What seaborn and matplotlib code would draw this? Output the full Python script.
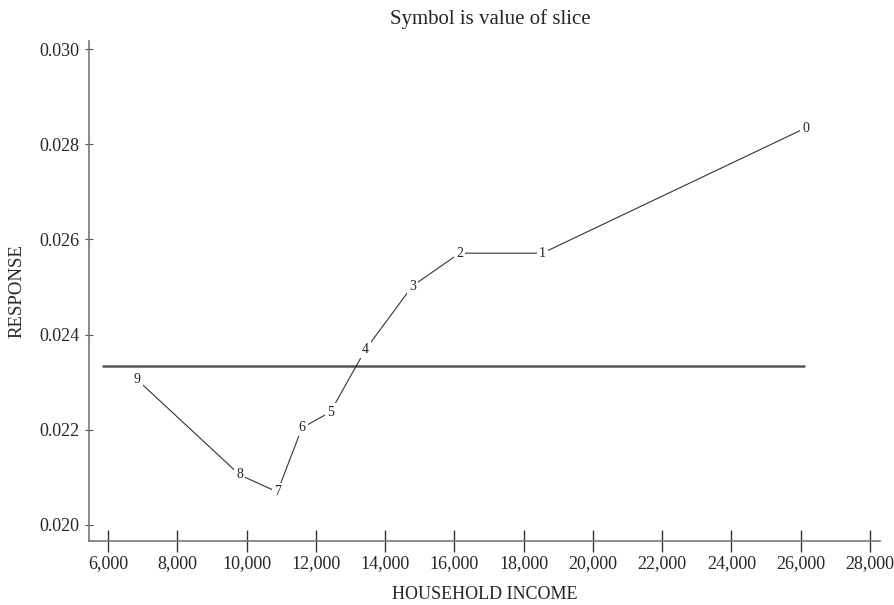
import matplotlib
matplotlib.use("Agg")
import matplotlib.pyplot as plt
import seaborn as sns
import pandas as pd

# Data
slices = ["9", "8", "7", "6", "5", "4", "3", "2", "1", "0"]
income = [6840, 9800, 10890, 11600, 12420, 13430, 14790, 16150, 18540, 26140]
response = [0.02305, 0.02105, 0.02069, 0.02204, 0.02237, 0.02368, 0.02502, 0.02571, 0.02571, 0.02834]
mean_line_x = [5860, 26090]
mean_line_y = [0.02334, 0.02334]
x_ticks = [6000, 8000, 10000, 12000, 14000, 16000, 18000, 20000, 22000, 24000, 26000, 28000]
y_ticks = [0.020, 0.022, 0.024, 0.026, 0.028, 0.030]

sns.set_style("white")
plt.rcParams['font.family'] = ['Liberation Serif', 'DejaVu Serif']

df = pd.DataFrame({"income": income, "response": response, "slice": slices})
mdf = pd.DataFrame({"x": mean_line_x, "y": mean_line_y})

fig = plt.figure(figsize=(8.94, 6.05), dpi=100)
ax = fig.add_axes([0.0996, 0.1058, 0.885, 0.8264])

sns.lineplot(data=mdf, x="x", y="y", ax=ax, color="#555555", linewidth=1.8, sort=False)
sns.lineplot(data=df, x="income", y="response", ax=ax, color="#333333", linewidth=0.8, sort=False)
for xi, yi, s in zip(income, response, slices):
    ax.text(xi, yi, s, ha="center", va="center", fontsize=10, color="#222222",
            bbox=dict(boxstyle="square,pad=0.15", fc="white", ec="none"), zorder=5)

ax.set_xlim(5450, 28300)
ax.set_ylim(0.01966, 0.03017)
ax.set_xticks(x_ticks)
ax.set_xticklabels([f"{t:,}" for t in x_ticks])
ax.set_yticks(y_ticks)
ax.set_yticklabels([f"{t:.3f}" for t in y_ticks])

for s in ["top", "right"]:
    ax.spines[s].set_visible(False)
for s in ["left", "bottom"]:
    ax.spines[s].set_color("#777777")
    ax.spines[s].set_linewidth(1.2)

ax.tick_params(axis="x", direction="inout", length=16, width=1.0, color="#333333",
               labelsize=13, pad=2, bottom=True)
ax.tick_params(axis="y", direction="inout", length=6, width=0.8, color="#555555",
               labelsize=13, pad=4, left=True)

ax.set_xlabel("HOUSEHOLD INCOME", fontsize=13, labelpad=10)
ax.set_ylabel("RESPONSE", fontsize=13.5, labelpad=10)
fig.text(0.548, 0.968, "Symbol is value of slice", ha="center", va="center", fontsize=15)

fig.savefig("out.png", dpi=100)
